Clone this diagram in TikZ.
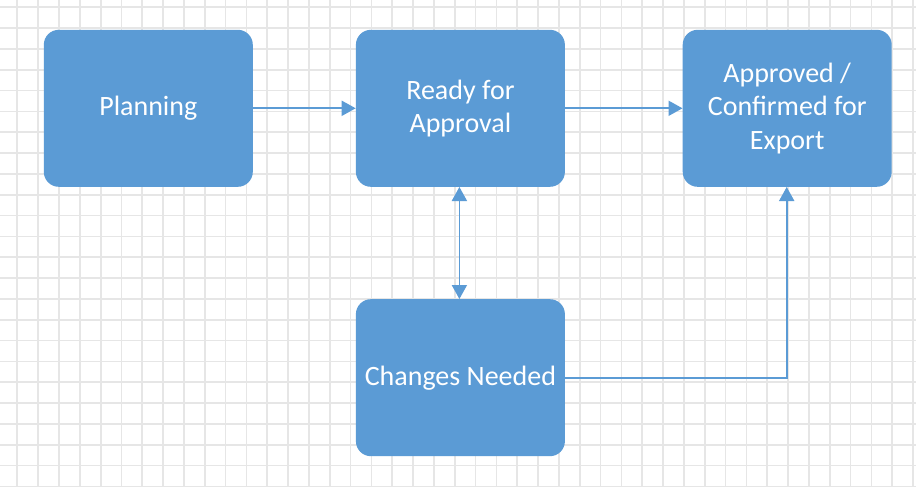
\documentclass[tikz,border=0pt]{standalone}
\usepackage{fontspec}
\setmainfont{Carlito}
\usetikzlibrary{arrows.meta}
\definecolor{boxblue}{RGB}{91,155,213}
\definecolor{gridgray}{RGB}{230,230,230}
\tikzset{
  gridline/.style={draw=gridgray, line width=1.7pt},
  stepbox/.style={rectangle, rounded corners=15pt, fill=boxblue, draw=none,
    minimum width=209pt, minimum height=157pt, inner sep=0pt,
    text=white, align=center, font=\fontsize{28}{33.5}\selectfont},
  conn/.style={draw=boxblue, line width=1.8pt, -{Triangle[length=14pt,width=15pt]}},
  conn2/.style={draw=boxblue, line width=1.8pt, {Triangle[length=14pt,width=15pt]}-{Triangle[length=14pt,width=15pt]}}
}
\begin{document}
\begin{tikzpicture}[x=1pt,y=-1pt]
\useasboundingbox (0,0) rectangle (916,487);
\fill[white] (0,0) rectangle (916,487);
\foreach \i in {1,...,44} \draw[gridline] ({-3.5+20.83*\i},0) -- ({-3.5+20.83*\i},487);
\foreach \j in {0,...,23} \draw[gridline] (0,{7.3+20.83*\j}) -- (916,{7.3+20.83*\j});
\node[stepbox] (plan) at (148.3,108.3) {\raisebox{-1.5pt}{Planning}};
\node[stepbox] (ready) at (460.4,108.3) {Ready for\\Approval};
\node[stepbox] (appr) at (787.2,108.3) {Approved /\\Confirmed for\\Export};
\node[stepbox] (chg) at (460.4,377.7) {\raisebox{-1.5pt}{Changes Needed}};
\draw[conn] (plan.east) -- (ready.west);
\draw[conn] (ready.east) -- (appr.west);
\draw[conn2] ([xshift=-1pt]ready.south) -- ([xshift=-1pt]chg.north);
\draw[conn] (chg.east) -| ([xshift=-0.5pt]appr.south);
\end{tikzpicture}
\end{document}
